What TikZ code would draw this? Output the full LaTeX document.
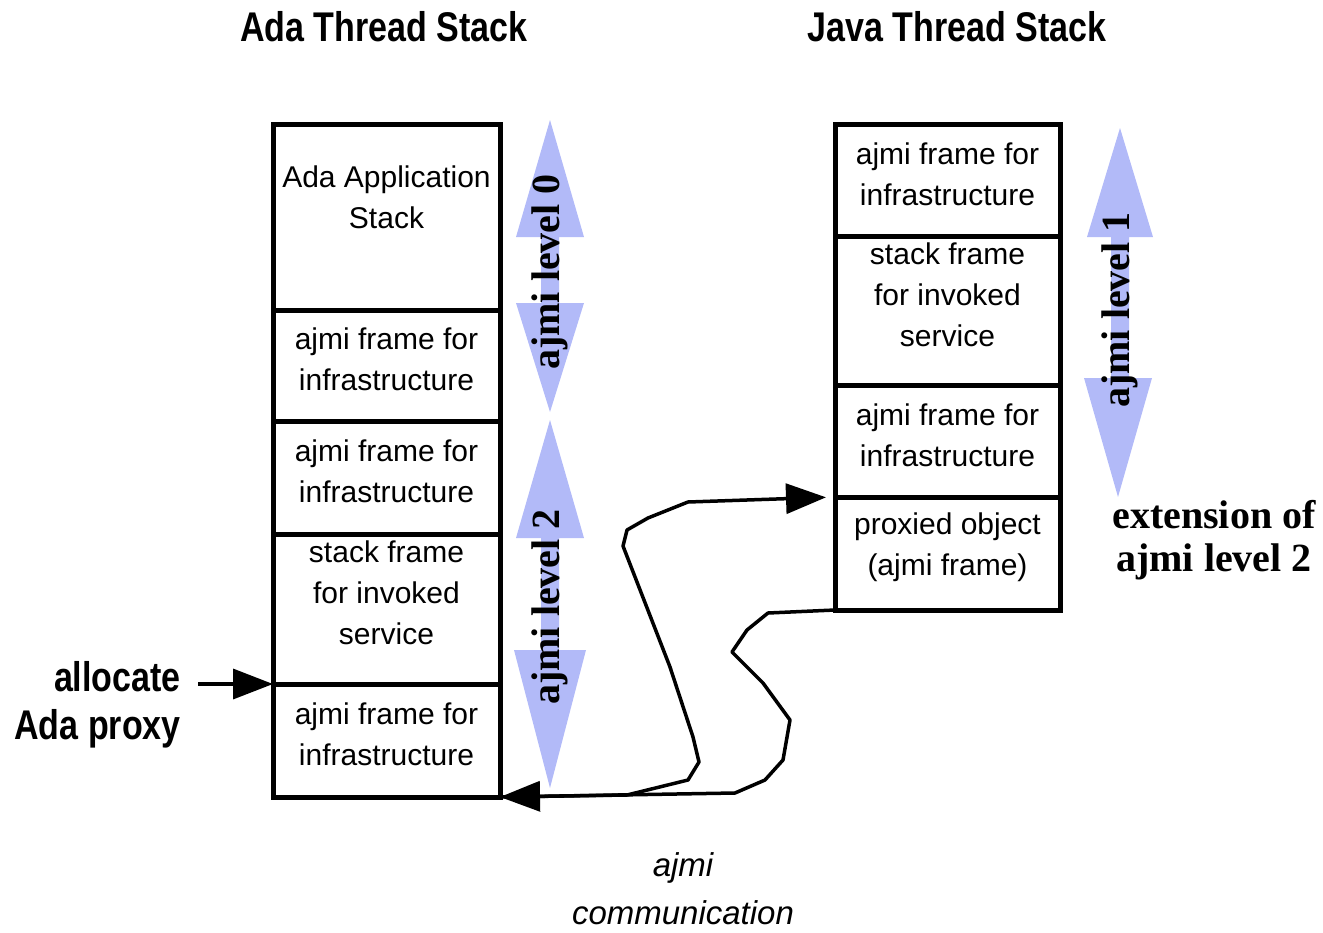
\documentclass[tikz,border=0pt]{standalone}
\usepackage{fontspec}
\setmainfont{Liberation Sans}
\newfontfamily\condfont{Liberation Sans}[FakeStretch=0.82]
\newfontfamily\levfont{Liberation Serif}
\usetikzlibrary{arrows.meta}

\definecolor{levelblue}{RGB}{178,186,248}

\tikzset{
  frame/.style={draw, line width=5pt, minimum width=227pt, anchor=north west, inner sep=0pt, outer sep=0pt},
  frametext/.style={align=center, inner sep=0pt, font=\fontsize{30}{41}\selectfont},
  heading/.style={font=\condfont\bfseries\fontsize{41.5}{48}\selectfont, inner sep=0pt},
  leveltext/.style={font=\levfont\bfseries\fontsize{40}{43}\selectfont, inner sep=0pt},
  levelband/.style={fill=levelblue},
  link/.style={line width=3.5pt, line join=round, -{Triangle[length=40pt,width=30pt]}}
}

\begin{document}
\begin{tikzpicture}[x=1pt, y=-1pt]

  \useasboundingbox (0,0) rectangle (1323,932);

  % titles
  \node[heading] (adatitle) at (384,27) {Ada Thread Stack};
  \node[heading] (javatitle) at (957,27) {Java Thread Stack};

  % Ada stack frames
  \node[frame, minimum height=186pt] (ada1) at (273,124) {};
  \node[frame, minimum height=111pt] (ada2) at (273,310) {};
  \node[frame, minimum height=113pt] (ada3) at (273,421) {};
  \node[frame, minimum height=150pt] (ada4) at (273,534) {};
  \node[frame, minimum height=113pt] (ada5) at (273,684) {};

  \node[frametext] (ada1txt) at ([yshift=20pt]ada1.center) {Ada Application\\Stack};
  \node[frametext] (ada2txt) at ([yshift=6pt]ada2.center) {ajmi frame for\\infrastructure};
  \node[frametext] (ada3txt) at ([yshift=6pt]ada3.center) {ajmi frame for\\infrastructure};
  \node[frametext] (ada4txt) at ([yshift=16pt]ada4.center) {stack frame\\for invoked\\service};
  \node[frametext] (ada5txt) at ([yshift=6pt]ada5.center) {ajmi frame for\\infrastructure};

  % Java stack frames
  \node[frame, minimum width=225pt, minimum height=112pt] (java1) at (835,124) {};
  \node[frame, minimum width=225pt, minimum height=149pt] (java2) at (835,236) {};
  \node[frame, minimum width=225pt, minimum height=112pt] (java3) at (835,385) {};
  \node[frame, minimum width=225pt, minimum height=113pt] (java4) at (835,497) {};

  \node[frametext] (java1txt) at ([yshift=6pt]java1.center) {ajmi frame for\\infrastructure};
  \node[frametext] (java2txt) at ([yshift=16pt]java2.center) {stack frame\\for invoked\\service};
  \node[frametext] (java3txt) at ([yshift=6pt]java3.center) {ajmi frame for\\infrastructure};
  \node[frametext] (java4txt) at ([yshift=6pt]java4.center) {proxied object\\(ajmi frame)};

  % ajmi levels
  \fill[levelband] (550,120) -- (584,237) -- (559,237) -- (559,303) -- (584,303) -- (550,412)
                   -- (516,303) -- (541,303) -- (541,237) -- (516,237) -- cycle;
  \fill[levelband] (550,420) -- (584,538) -- (559,538) -- (559,650) -- (586,650) -- (550,788)
                   -- (514,650) -- (541,650) -- (541,538) -- (516,538) -- cycle;
  \fill[levelband] (1120,128) -- (1153,237) -- (1129,237) -- (1129,378) -- (1152,378) -- (1118,497)
                   -- (1084,378) -- (1111,378) -- (1111,237) -- (1087,237) -- cycle;

  \node[leveltext, rotate=90] (level0) at (550,272) {ajmi level 0};
  \node[leveltext, rotate=90] (level2) at (550,607) {ajmi level 2};
  \node[leveltext, rotate=90] (level1) at (1120,310) {ajmi level 1};

  \node[leveltext, align=center] (extension) at (1214,540) {extension of\\ajmi level 2};

  % allocate
  \node[heading, align=right, anchor=east] (allocate) at (181,705) {allocate\\Ada proxy};
  \draw[link] ([xshift=17pt]allocate.east |- ada5.north west) -- (ada5.north west);

  % ajmi communication
  \draw[link, shorten >=9pt] (ada5.south east) -- (627,795) -- (688,780) -- (699,762) -- (693,737)
        -- (670,667) -- (623,546) -- (627,530) -- (648,518) -- (688,502) -- (java4.north west);
  \draw[link] (java4.south west) -- (768,613) -- (747,630) -- (732,652) -- (763,683) -- (790,720)
        -- (783,760) -- (765,780) -- (735,793) -- (ada5.south east);

  \node[font=\itshape\fontsize{33}{48}\selectfont, align=center, inner sep=0pt] (comm) at (683,889) {ajmi\\communication};

\end{tikzpicture}
\end{document}
